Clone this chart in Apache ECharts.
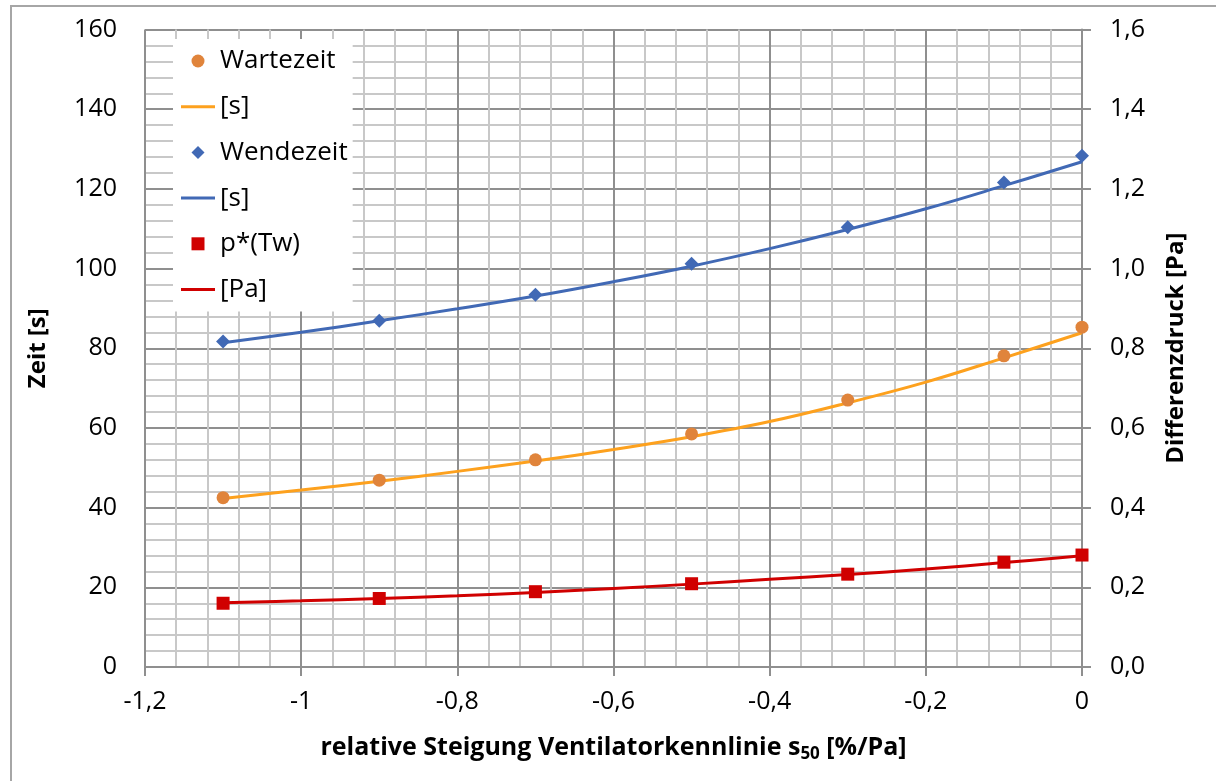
<!DOCTYPE html>
<html>
<head>
<meta charset="utf-8">
<title>Wartezeit und Wendezeit</title>
<script src="https://cdn.jsdelivr.net/npm/echarts@6/dist/echarts.min.js"></script>
<style>
  html, body { margin: 0; padding: 0; background: #fff; }
  #chart { width: 1216px; height: 781px; }
</style>
</head>
<body>
<div id="chart"></div>
<script>
// Messpunkte: relative Steigung der Ventilatorkennlinie
const steigung = [-1.1, -0.9, -0.7, -0.5, -0.3, -0.1, 0];
const wartezeit = [42.5, 46.9, 52.0, 58.5, 67.0, 78.1, 85.3];      // s
const wendezeit = [81.7, 86.9, 93.4, 101.2, 110.4, 121.6, 128.3];  // s
const druckTw = [0.160, 0.172, 0.189, 0.209, 0.233, 0.263, 0.281]; // Pa

const trendX = [-1.1, -1.0, -0.9, -0.8, -0.7, -0.6, -0.5, -0.4, -0.3, -0.2, -0.1, 0];
const wartezeitTrend = [42.3, 44.4, 46.6, 49.1, 51.7, 54.6, 57.8, 61.6, 66.3, 71.5, 77.6, 83.9];
const wendezeitTrend = [81.4, 84.0, 86.9, 89.9, 93.1, 96.7, 100.6, 105.0, 109.8, 115.0, 120.8, 126.8];
const druckTrend = [0.161, 0.166, 0.172, 0.179, 0.187, 0.197, 0.208, 0.220, 0.232, 0.246, 0.262, 0.279];

// Achsenbeschriftungen
const xTitle = 'relative Steigung Ventilatorkennlinie s{sub|50} [%/Pa]';
const yLeftTitle = 'Zeit [s]';
const yRightTitle = 'Differenzdruck [Pa]';
const legendLabels = {
  'Wartezeit': 'Wartezeit',
  'Wartezeit Trend': '[s]',
  'Wendezeit': 'Wendezeit',
  'Wendezeit Trend': '[s]',
  'p*(Tw)': 'p*(Tw)',
  'p*(Tw) Trend': '[Pa]'
};

const FONT = 'Open Sans';
const MAJOR = '#8f8f8f';
const MINOR = '#c8c8c8';
const ORANGE_DOT = '#e0843b';
const ORANGE_LINE = '#fda11e';
const BLUE = '#4169b5';
const RED = '#d00000';

// Legendensymbole: Linie bzw. seitentreue Marker
const ICON_LINE = 'path://M0,0L34,0L34,3L0,3Z';
const ICON_SQUARE = 'path://M0,0L1,0L1,1L0,1Z';
const ICON_DIAMOND = 'path://M1,0L2,1L1,2L0,1Z';

const pairs = (xs, ys) => xs.map((x, i) => [x, ys[i]]);
const comma = (v, d) => {
  const s = d == null ? String(Number(v.toFixed(3))) : Number(v.toFixed(3)).toFixed(d);
  return s.replace('.', ',');
};

const chart = echarts.init(document.getElementById('chart'), null, { renderer: 'canvas' });

chart.setOption({
  backgroundColor: '#ffffff',
  animation: false,
  textStyle: { fontFamily: FONT, color: '#000' },
  graphic: [{
    type: 'rect',
    z: -10,
    shape: { x: 11, y: 6, width: 1300, height: 900 },
    style: { fill: null, stroke: '#a6a6a6', lineWidth: 2 }
  }],
  grid: { left: 145, right: 134, top: 29.5, bottom: 114, containLabel: false },
  legend: {
    orient: 'vertical',
    left: 173,
    top: 39,
    padding: [9, 5, 9, 8],
    backgroundColor: '#ffffff',
    itemWidth: 34,
    itemHeight: 13,
    itemGap: 19.7,
    symbolKeepAspect: true,
    selectedMode: false,
    data: [
      { name: 'Wartezeit', icon: 'circle' },
      { name: 'Wartezeit Trend', icon: ICON_LINE },
      { name: 'Wendezeit', icon: ICON_DIAMOND },
      { name: 'Wendezeit Trend', icon: ICON_LINE },
      { name: 'p*(Tw)', icon: ICON_SQUARE },
      { name: 'p*(Tw) Trend', icon: ICON_LINE }
    ],
    formatter: name => legendLabels[name],
    textStyle: { fontFamily: FONT, fontSize: 26, color: '#000', lineHeight: 26 }
  },
  xAxis: {
    type: 'value',
    min: -1.2,
    max: 0,
    interval: 0.2,
    name: xTitle,
    nameLocation: 'middle',
    nameGap: 66,
    nameTextStyle: {
      fontFamily: FONT, fontSize: 25, fontWeight: 'bold', color: '#000', lineHeight: 30,
      rich: { sub: { fontFamily: FONT, fontSize: 17, fontWeight: 'bold', color: '#000', lineHeight: 30, padding: [4, 0, 0, 0], verticalAlign: 'bottom' } }
    },
    axisLine: { show: true, lineStyle: { color: MAJOR, width: 2 } },
    axisTick: { show: true, length: 9, lineStyle: { color: MAJOR, width: 2 } },
    axisLabel: { fontFamily: FONT, fontSize: 25, color: '#000', margin: 22, formatter: v => comma(v, null) },
    splitLine: { show: true, lineStyle: { color: MAJOR, width: 2 } },
    minorTick: { show: false, splitNumber: 5 },
    minorSplitLine: { show: true, lineStyle: { color: MINOR, width: 2 } }
  },
  yAxis: [{
    type: 'value',
    min: 0,
    max: 160,
    interval: 20,
    name: yLeftTitle,
    nameLocation: 'middle',
    nameGap: 95,
    nameRotate: 90,
    nameTextStyle: { fontFamily: FONT, fontSize: 24, fontWeight: 'bold', color: '#000' },
    axisLine: { show: false },
    axisTick: { show: false },
    axisLabel: { fontFamily: FONT, fontSize: 25, color: '#000', margin: 28 },
    splitLine: { show: true, lineStyle: { color: MAJOR, width: 2 } },
    minorTick: { show: false, splitNumber: 5 },
    minorSplitLine: { show: true, lineStyle: { color: MINOR, width: 2 } }
  }, {
    type: 'value',
    position: 'right',
    min: 0,
    max: 1.6,
    interval: 0.2,
    name: yRightTitle,
    nameLocation: 'middle',
    nameGap: 82,
    nameRotate: 90,
    nameTextStyle: { fontFamily: FONT, fontSize: 24, fontWeight: 'bold', color: '#000' },
    axisLine: { show: true, lineStyle: { color: MAJOR, width: 2 } },
    axisTick: { show: true, length: 9, lineStyle: { color: MAJOR, width: 2 } },
    axisLabel: { fontFamily: FONT, fontSize: 25, color: '#000', margin: 28, formatter: v => comma(v, 1) },
    splitLine: { show: false }
  }],
  series: [{
    name: 'Wartezeit',
    type: 'scatter',
    yAxisIndex: 0,
    symbol: 'circle',
    symbolSize: 13,
    itemStyle: { color: ORANGE_DOT, opacity: 1 },
    data: pairs(steigung, wartezeit),
    z: 5
  }, {
    name: 'Wartezeit Trend',
    type: 'line',
    yAxisIndex: 0,
    smooth: 0.4,
    symbol: 'none',
    lineStyle: { color: ORANGE_LINE, width: 3 },
    itemStyle: { color: ORANGE_LINE },
    data: pairs(trendX, wartezeitTrend),
    z: 4
  }, {
    name: 'Wendezeit',
    type: 'scatter',
    yAxisIndex: 0,
    symbol: 'diamond',
    symbolSize: 14,
    itemStyle: { color: BLUE, opacity: 1 },
    data: pairs(steigung, wendezeit),
    z: 5
  }, {
    name: 'Wendezeit Trend',
    type: 'line',
    yAxisIndex: 0,
    smooth: 0.4,
    symbol: 'none',
    lineStyle: { color: BLUE, width: 3 },
    itemStyle: { color: BLUE },
    data: pairs(trendX, wendezeitTrend),
    z: 4
  }, {
    name: 'p*(Tw)',
    type: 'scatter',
    yAxisIndex: 1,
    symbol: 'rect',
    symbolSize: 13,
    itemStyle: { color: RED, opacity: 1 },
    data: pairs(steigung, druckTw),
    z: 5
  }, {
    name: 'p*(Tw) Trend',
    type: 'line',
    yAxisIndex: 1,
    smooth: 0.4,
    symbol: 'none',
    lineStyle: { color: RED, width: 3 },
    itemStyle: { color: RED },
    data: pairs(trendX, druckTrend),
    z: 4
  }]
});
</script>
</body>
</html>
